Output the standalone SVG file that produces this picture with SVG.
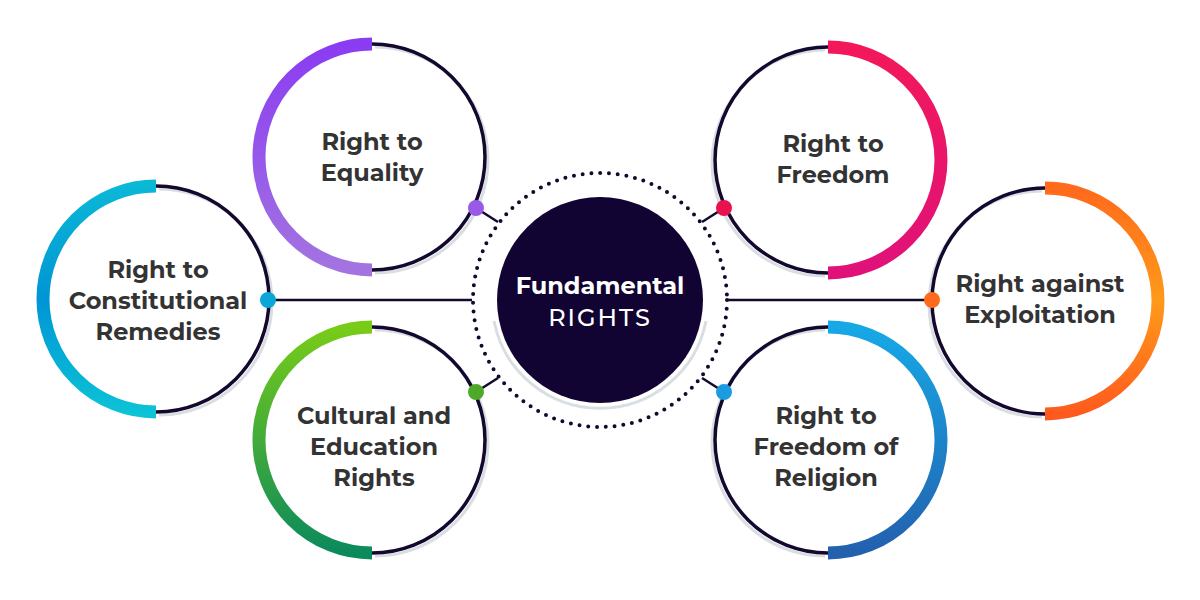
<svg xmlns="http://www.w3.org/2000/svg" width="1200" height="600" viewBox="0 0 1200 600">
<defs>
<linearGradient id="gPur" x1="0" y1="0" x2="0" y2="1"><stop offset="0" stop-color="#8A3CF2"/><stop offset="1" stop-color="#A374E0"/></linearGradient>
<linearGradient id="gRed" x1="0" y1="0" x2="0" y2="1"><stop offset="0" stop-color="#F2185A"/><stop offset="1" stop-color="#E0127A"/></linearGradient>
<linearGradient id="gCya" x1="0" y1="0" x2="0" y2="1"><stop offset="0" stop-color="#0BB8D6"/><stop offset="0.5" stop-color="#0095D5"/><stop offset="1" stop-color="#0CC2D6"/></linearGradient>
<linearGradient id="gOra" x1="0" y1="0" x2="0" y2="1"><stop offset="0" stop-color="#FF6A1C"/><stop offset="0.5" stop-color="#FF9A1A"/><stop offset="1" stop-color="#FF5A1E"/></linearGradient>
<linearGradient id="gGrn" x1="0" y1="0" x2="0" y2="1"><stop offset="0" stop-color="#78CC18"/><stop offset="1" stop-color="#0B8A5C"/></linearGradient>
<linearGradient id="gBlu" x1="0" y1="0" x2="0" y2="1"><stop offset="0" stop-color="#17A8E6"/><stop offset="1" stop-color="#2360AE"/></linearGradient>
</defs>
<style>
.dark{fill:none;stroke:#14082F;stroke-width:3.5}
.shadow{fill:none;stroke:#D8DEE2;stroke-width:3}
.col{fill:none;stroke-width:13}
.lbl{font-family:"Montserrat","Lato","Open Sans",sans-serif;font-weight:700;font-size:24px;fill:#333;text-anchor:middle}
.conn{stroke:#14082F;stroke-width:2.5;fill:none}
</style>
<rect width="1200" height="600" fill="#fff"/>
<g id="connectors">
<line class="conn" x1="270" y1="300" x2="472" y2="300"/>
<line class="conn" x1="728" y1="300" x2="932" y2="300"/>
<line class="conn" x1="476" y1="208" x2="498" y2="222"/>
<line class="conn" x1="724" y1="208" x2="702" y2="222"/>
<line class="conn" x1="476" y1="392" x2="498" y2="378"/>
<line class="conn" x1="724" y1="392" x2="702" y2="378"/>
</g>
<g id="center">
<circle cx="600" cy="300" r="127" fill="#fff" stroke="#14082F" stroke-width="4" stroke-dasharray="0 8.8" stroke-linecap="round"/>
<path d="M494 318 A108 108 0 0 0 706 318" class="shadow" transform="translate(0,3)"/>
<circle cx="600" cy="300" r="103" fill="#110433"/>
<text x="600" y="294" class="lbl" style="fill:#fff">Fundamental</text>
<text x="600" y="326" class="lbl" style="fill:#fff;font-weight:500;letter-spacing:2px">RIGHTS</text>
</g>
<g id="equality">
<path d="M372 44 A113 113 0 0 1 372 270" class="shadow" transform="translate(3,3)"/>
<path d="M372 44 A113 113 0 0 1 372 270" class="dark"/>
<path d="M372 44 A113 113 0 0 0 372 270" class="col" stroke="url(#gPur)"/>
<circle cx="476" cy="208" r="8" fill="#9A5AE8"/>
<text x="372" y="150" class="lbl">Right to</text><text x="372" y="181" class="lbl">Equality</text>
</g>
<g id="freedom">
<path d="M828 47 A113 113 0 0 0 828 273" class="shadow" transform="translate(-3,3)"/>
<path d="M828 47 A113 113 0 0 0 828 273" class="dark"/>
<path d="M828 47 A113 113 0 0 1 828 273" class="col" stroke="url(#gRed)"/>
<circle cx="724" cy="208" r="8" fill="#E8124F"/>
<text x="833" y="152" class="lbl">Right to</text><text x="833" y="183" class="lbl">Freedom</text>
</g>
<g id="remedies">
<path d="M156 186 A113 113 0 0 1 156 412" class="shadow" transform="translate(3,3)"/>
<path d="M156 186 A113 113 0 0 1 156 412" class="dark"/>
<path d="M156 186 A113 113 0 0 0 156 412" class="col" stroke="url(#gCya)"/>
<circle cx="268" cy="300" r="8" fill="#0AA6DA"/>
<text x="158" y="278" class="lbl">Right to</text><text x="158" y="309" class="lbl">Constitutional</text><text x="158" y="340" class="lbl">Remedies</text>
</g>
<g id="exploitation">
<path d="M1045 188 A113 113 0 0 0 1045 414" class="shadow" transform="translate(-3,3)"/>
<path d="M1045 188 A113 113 0 0 0 1045 414" class="dark"/>
<path d="M1045 188 A113 113 0 0 1 1045 414" class="col" stroke="url(#gOra)"/>
<circle cx="932" cy="300" r="8" fill="#FF6A1C"/>
<text x="1040" y="292" class="lbl">Right against</text><text x="1040" y="323" class="lbl">Exploitation</text>
</g>
<g id="cultural">
<path d="M372 327 A113 113 0 0 1 372 553" class="shadow" transform="translate(3,3)"/>
<path d="M372 327 A113 113 0 0 1 372 553" class="dark"/>
<path d="M372 327 A113 113 0 0 0 372 553" class="col" stroke="url(#gGrn)"/>
<circle cx="476" cy="392" r="8" fill="#4EA82A"/>
<text x="374" y="424" class="lbl">Cultural and</text><text x="374" y="455" class="lbl">Education</text><text x="374" y="486" class="lbl">Rights</text>
</g>
<g id="religion">
<path d="M828 327 A113 113 0 0 0 828 553" class="shadow" transform="translate(-3,3)"/>
<path d="M828 327 A113 113 0 0 0 828 553" class="dark"/>
<path d="M828 327 A113 113 0 0 1 828 553" class="col" stroke="url(#gBlu)"/>
<circle cx="724" cy="392" r="8" fill="#1A9CE0"/>
<text x="826" y="424" class="lbl">Right to</text><text x="826" y="455" class="lbl">Freedom of</text><text x="826" y="486" class="lbl">Religion</text>
</g>
</svg>
